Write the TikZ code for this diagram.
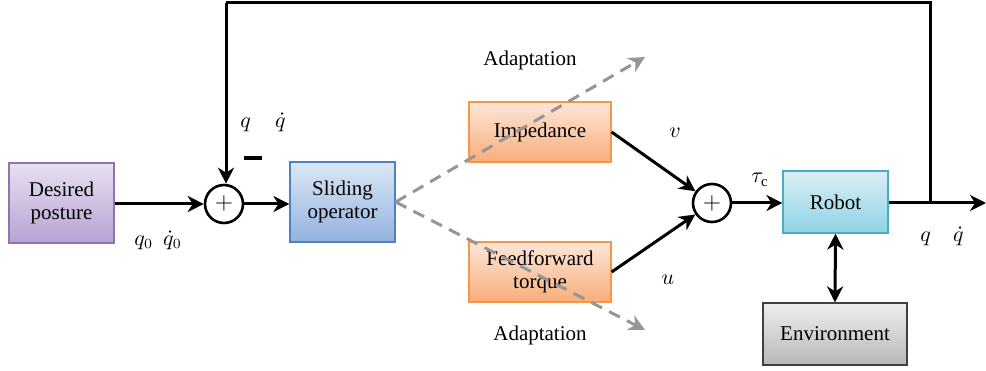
\documentclass[tikz,border=0pt]{standalone}
\usepackage{fontspec}
\setmainfont{LiberationSerif}[Extension=.ttf,UprightFont=*-Regular,BoldFont=*-Bold,ItalicFont=*-Italic,BoldItalicFont=*-BoldItalic]
\usetikzlibrary{positioning,arrows.meta}

\definecolor{purpleT}{HTML}{E8DFF1}
\definecolor{purpleB}{HTML}{B7A2D2}
\definecolor{purpleD}{HTML}{8C76AE}
\definecolor{blueT}{HTML}{DCE7F5}
\definecolor{blueB}{HTML}{92B2DE}
\definecolor{blueD}{HTML}{4F81BD}
\definecolor{orangeT}{HTML}{FDE6D8}
\definecolor{orangeB}{HTML}{F8AE7C}
\definecolor{orangeD}{HTML}{F79646}
\definecolor{cyanT}{HTML}{DAEFF5}
\definecolor{cyanB}{HTML}{8FD2E4}
\definecolor{cyanD}{HTML}{4BACC6}
\definecolor{grayT}{HTML}{EEEEEE}
\definecolor{grayB}{HTML}{B8B8B8}
\definecolor{grayD}{HTML}{404040}
\definecolor{adaptC}{HTML}{969696}

\begin{document}
\begin{tikzpicture}
  [x=0.5pt,y=0.5pt,
   blockN/.style={rectangle,draw,line width=0.6pt,align=center,inner sep=0pt,
     font=\fontsize{10.5}{11.5}\selectfont},
   sumN/.style={circle,draw,line width=1.3pt,minimum size=19pt,inner sep=0pt,
     font=\fontsize{13}{13}\selectfont},
   sig/.style={line width=1.5pt,-{Stealth[length=8pt,width=8pt,inset=2.5pt]}},
   adapt/.style={adaptC,line width=1.5pt,dash pattern=on 6pt off 4pt,
     -{Stealth[length=8pt,width=8pt,inset=2.5pt]}},
   lbl/.style={inner sep=0pt,font=\fontsize{10.5}{12}\selectfont}]

  \useasboundingbox (0,0) rectangle (986,370);

  % blocks
  \node[blockN,minimum width=52.5pt,minimum height=40pt,draw=purpleD,
        top color=purpleT,bottom color=purpleB] (desired) at (61.5,167) {Desired\\posture};
  \node[sumN] (sumA) at (224,166) {$+$};
  \node[blockN,minimum width=52.5pt,minimum height=40pt,draw=blueD,
        top color=blueT,bottom color=blueB] (sliding) at (342.5,168) {Sliding\\operator};
  \node[blockN,minimum width=71pt,minimum height=30pt,draw=orangeD,
        top color=orangeT,bottom color=orangeB] (imp) at (540,238) {Impedance};
  \node[blockN,minimum width=71pt,minimum height=30pt,draw=orangeD,
        top color=orangeT,bottom color=orangeB] (ff) at (540,98) {Feedforward\\torque};
  \node[sumN] (sumB) at (712,167) {$+$};
  \node[blockN,minimum width=52.5pt,minimum height=31pt,draw=cyanD,
        top color=cyanT,bottom color=cyanB] (robot) at (835.5,168) {Robot};
  \node[blockN,minimum width=72pt,minimum height=31pt,draw=grayD,
        top color=grayT,bottom color=grayB] (env) at (835,36) {Environment};

  \coordinate (branch) at (930,167);
  \coordinate (fbtop) at (226,367);
  \coordinate (out) at (986,167);
  \coordinate (adaptUp) at (645,313);
  \coordinate (adaptDown) at (645,40);

  % signals
  \draw[sig] (desired.east |- sumA) -- (sumA);
  \draw[sig] (sumA) -- (sliding.west |- sumA);
  \draw[sig] (imp.east) -- (sumB);
  \draw[sig] (ff.east) -- (sumB);
  \draw[sig] (sumB) -- (robot.west |- sumB);
  \draw[sig] (robot.east |- branch) -- (out);
  \draw[line width=1.5pt] (branch) |- (fbtop);
  \draw[sig] (fbtop) -- (fbtop |- sumA.north);
  \draw[line width=1.5pt,{Stealth[length=8pt,width=8pt,inset=2.5pt]}-{Stealth[length=8pt,width=8pt,inset=2.5pt]}]
    (robot.south) -- (env.north);

  % adaptation
  \draw[adapt] (sliding.east) -- (adaptUp);
  \draw[adapt] (sliding.east) -- (adaptDown);

  % labels
  \node[lbl] (adaptA) at (530,310) {Adaptation};
  \node[lbl] (adaptB) at (540,35) {Adaptation};
  \node[lbl] (qzero) at (158,130) {$q_0\hspace{5pt}\dot q_0$};
  \node[lbl] (qfb) at (263,248) {$q\hspace{12pt}\dot q$};
  \node[lbl] (minus) at (253,212) {\rule{9pt}{1.8pt}};
  \node[lbl] (vlbl) at (675,237) {$v$};
  \node[lbl] (ulbl) at (668,90) {$u$};
  \node[lbl] (taulbl) at (760,190) {$\tau_{\mathrm{c}}$};
  \node[lbl] (qout) at (942,134) {$q\hspace{11pt}\dot q$};
\end{tikzpicture}
\end{document}
